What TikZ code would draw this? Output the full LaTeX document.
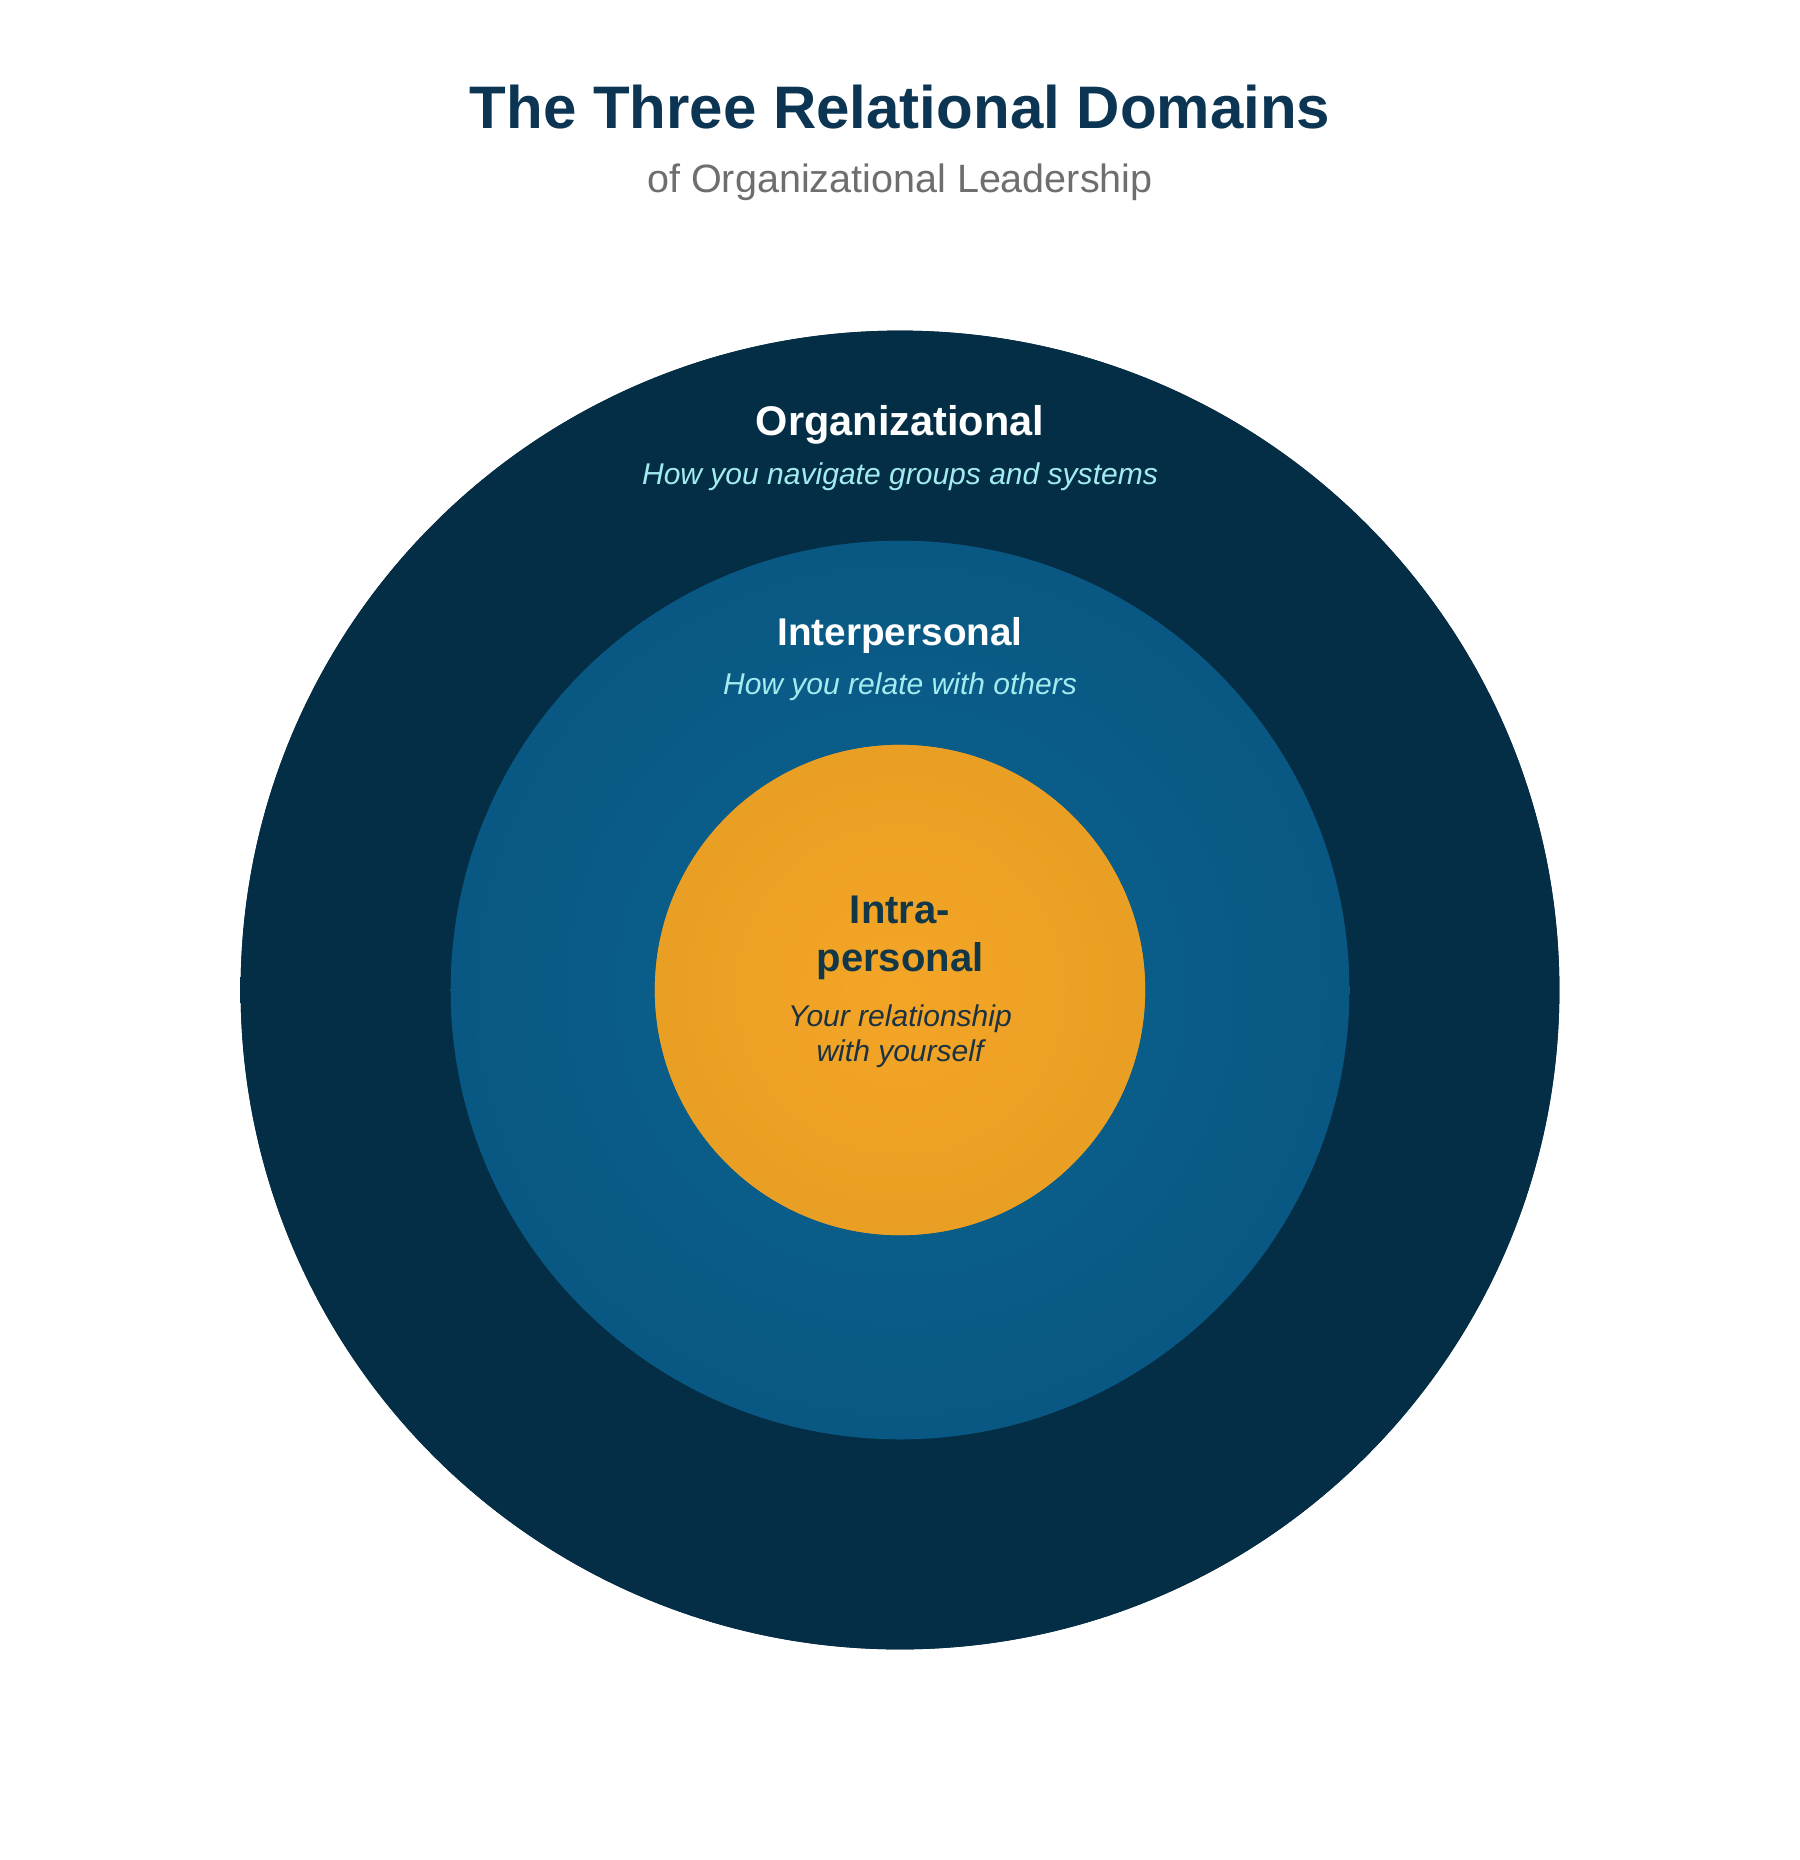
\documentclass[tikz,border=0pt]{standalone}
\usepackage{fontspec}
\setmainfont{Liberation Sans}
\usepackage{tikz}
\usetikzlibrary{shapes.geometric}

\definecolor{navy}{HTML}{0B3552}
\definecolor{greytext}{HTML}{6E6E6E}
\definecolor{orgedge}{HTML}{03283D}
\definecolor{orgmid}{HTML}{042E45}
\definecolor{interedge}{HTML}{084D74}
\definecolor{intermid}{HTML}{0A5C89}
\definecolor{intraedge}{HTML}{DE9822}
\definecolor{intramid}{HTML}{F4A526}
\definecolor{mint}{HTML}{A2ECF0}
\definecolor{coretext}{HTML}{123747}
\definecolor{corenote}{HTML}{1C3240}

\pgfdeclareradialshading{orgglow}{\pgfpointorigin}{color(0bp)=(orgmid); color(30bp)=(orgmid); color(50bp)=(orgedge)}
\pgfdeclareradialshading{interglow}{\pgfpointorigin}{color(0bp)=(intermid); color(15bp)=(intermid); color(50bp)=(interedge)}
\pgfdeclareradialshading{intraglow}{\pgfpointorigin}{color(0bp)=(intramid); color(50bp)=(intraedge)}

\tikzset{
  ring/.style={circle, inner sep=0pt, draw=none},
  headline/.style={text=navy, font=\fontsize{17.07pt}{20pt}\selectfont\bfseries, anchor=base},
  subline/.style={text=greytext, font=\fontsize{11.24pt}{13pt}\selectfont, anchor=base},
  ringhead/.style={text=white, font=\fontsize{#1}{14pt}\selectfont\bfseries, anchor=base},
  ringnote/.style={text=mint, font=\fontsize{8.54pt}{10pt}\selectfont\itshape, anchor=base},
  corehead/.style={text=coretext, font=\fontsize{11.38pt}{13pt}\selectfont\bfseries, anchor=base},
  corenotes/.style={text=corenote, font=\fontsize{8.54pt}{10pt}\selectfont\itshape, anchor=base}
}

\begin{document}
\begin{tikzpicture}[x=0.01cm, y=-0.01cm]
\useasboundingbox[fill=white] (0,0) rectangle (1800,1860);
% title
\node[headline] (title) at (900,128) {The Three Relational Domains};
\node[subline] (subtitle) at (900,192) {of Organizational Leadership};
% the three domains
\node[ring, minimum size=13.18cm, fill=orgedge, shading=orgglow] (org) at (900,990) {};
\node[ring, minimum size=8.98cm, fill=interedge, shading=interglow] (inter) at (900,990) {};
\node[ring, minimum size=4.9cm, fill=intraedge, shading=intraglow] (intra) at (900,990) {};
% labels
\node[ringhead=11.8pt] (orglabel) at (900,435) {Organizational};
\node[ringnote] (orgnote) at (900,484) {How you navigate groups and systems};
\node[ringhead=11pt] (interlabel) at (900,645) {Interpersonal};
\node[ringnote] (internote) at (900,694) {How you relate with others};
\node[corehead] (intralabel) at (900,923) {Intra-};
\node[corehead] (intralabelb) at (900,971) {personal};
\node[corenotes] (intranote) at (900,1026) {Your relationship};
\node[corenotes] (intranoteb) at (900,1061) {with yourself};
\end{tikzpicture}
\end{document}
